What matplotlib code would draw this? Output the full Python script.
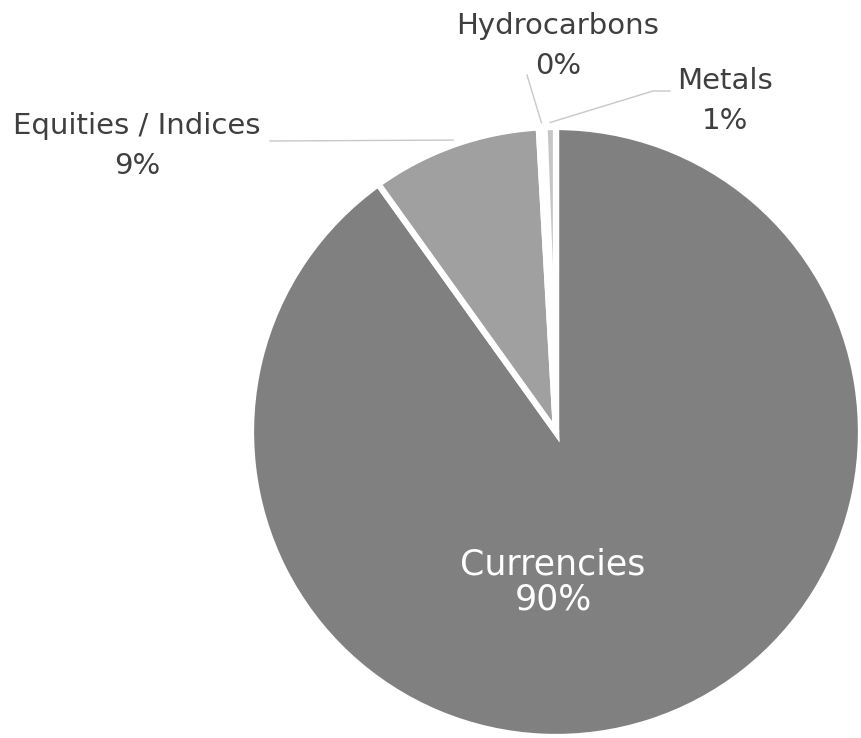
import matplotlib
matplotlib.use("Agg")
import numpy as np
import matplotlib.pyplot as plt

# Data (share of trades by asset class, %)
categories = ["Currencies", "Equities / Indices", "Hydrocarbons", "Metals"]
shares = [90.1, 9.0, 0.3, 0.6]
colors = ["#808080", "#a0a0a0", "#f4f4f4", "#c6c6c6"]

W, H = 861, 738
CX, CY, R = 556, 432, 305  # pie centre / radius in pixels


def px(x, y):
    # pixel (top-left origin) -> pie data coords
    return (x - CX) / R, (CY - y) / R


fig = plt.figure(figsize=(W / 100, H / 100), dpi=100)
ax = fig.add_axes([(CX - R) / W, (H - CY - R) / H, 2 * R / W, 2 * R / H])

wedges, _ = ax.pie(shares, colors=colors, startangle=90, counterclock=False,
                   radius=1, wedgeprops=dict(edgecolor="white", linewidth=4.5))
ax.set_xlim(-1, 1)
ax.set_ylim(-1, 1)
ax.axis("off")

labels = [f"{c}\n{v:.0f}%" for c, v in zip(categories, shares)]
txt = "#3f3f3f"
line_c = "#c8c8c8"
fs = 21

# Currencies label inside
x, y = px(553, 582)
ax.text(x, y, labels[0], color="white", fontsize=25, ha="center", va="center",
        linespacing=1.05)


def mid_point(w, r=1.015):
    a = np.deg2rad((w.theta1 + w.theta2) / 2)
    return r * np.cos(a), r * np.sin(a)


# Equities / Indices
ex, ey = mid_point(wedges[1])
x1, y1 = px(270, 141)
ax.plot([x1, ex], [y1, ey], color=line_c, lw=1, clip_on=False)
x, y = px(137, 146)
ax.text(x, y, labels[1], color=txt, fontsize=fs, ha="center", va="center",
        linespacing=1.55)

# Hydrocarbons
hx, hy = mid_point(wedges[2])
x1, y1 = px(527, 75)
ax.plot([x1, hx], [y1, hy], color=line_c, lw=1, clip_on=False)
x, y = px(558, 46)
ax.text(x, y, labels[2], color=txt, fontsize=fs, ha="center", va="center",
        linespacing=1.55)

# Metals
mx, my = mid_point(wedges[3])
xa, ya = px(653, 91)
xb, yb = px(670, 91)
ax.plot([mx, xa, xb], [my, ya, yb], color=line_c, lw=1, clip_on=False)
x, y = px(725, 101)
ax.text(x, y, labels[3], color=txt, fontsize=fs, ha="center", va="center",
        linespacing=1.55)

fig.savefig("out.png", dpi=100, facecolor="white")
